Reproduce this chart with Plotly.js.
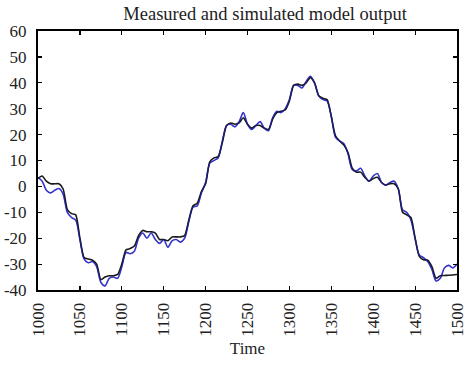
<!DOCTYPE html>
<html>
<head>
<meta charset="utf-8">
<script src="https://cdn.plot.ly/plotly-3.0.1.min.js"></script>
<style>html,body{margin:0;padding:0;background:#fff;}#chart{width:474px;height:367px;}</style>
</head>
<body>
<div id="chart"></div>
<script>
const time = [];
for (let t = 1000; t <= 1500; t += 5) time.push(t);

const measured = [
 3, 4, 2, 1, 1, 1, -1, -9, -10.5, -11,
 -20, -27.5, -28, -28.5, -30, -36, -35, -34.5, -34.5, -34,
 -30, -24.5, -24, -23, -19, -17, -17.5, -17.5, -18, -20.5,
 -20.5, -21, -19.5, -19.5, -19.5, -19, -13, -7.5, -6.5, -2,
 1, 9.5, 11, 11.5, 17, 23.5, 24.5, 24, 24.5, 26.5,
 24, 22.5, 23.5, 23.5, 22.5, 22, 26, 28.5, 29, 29.5,
 33, 39, 39.5, 39, 40, 42, 40, 35, 34, 33.5,
 27, 19.5, 17.5, 16, 13, 7, 5.5, 5.5, 3.5, 2,
 3, 3.5, 1.5, 0.5, 1, 1, -1, -10, -11, -12,
 -20, -27, -28.3, -28.5, -31, -35.5, -34.5, -34.4, -34.3, -34.2,
 -34
];

const simulated = [
 3.5, 2, -1.5, -2.5, -1.5, -0.8, -3, -10, -12, -13,
 -20.5, -28, -29.5, -29, -31, -37, -38.4, -35.5, -35, -35.5,
 -31, -25.5, -26, -25, -20, -18, -20, -18, -20.5, -22,
 -20.5, -23.5, -21, -20.5, -21.5, -20, -13.5, -8, -7.5, -2.5,
 1.5, 9, 10, 11, 17.5, 23.5, 24, 23, 25, 28.5,
 24, 22, 23.5, 25, 22.5, 21.5, 26.5, 29, 28.5, 30,
 33.5, 39, 39, 38, 40.5, 42.5, 40, 35, 33.5, 33,
 27, 19, 17.5, 16.5, 12.5, 6.5, 6, 7, 4, 2,
 4, 5, 1.5, 0.5, 1.5, 2, -1, -9, -10, -13,
 -20, -26.5, -27.5, -29, -32, -36.5, -35.5, -31.5, -30.5, -31.5,
 -30
];

const xTicks = [1000, 1050, 1100, 1150, 1200, 1250, 1300, 1350, 1400, 1450, 1500];
const yTicks = [-40, -30, -20, -10, 0, 10, 20, 30, 40, 50, 60];

const family = '"Liberation Serif", "Times New Roman", serif';
const tickFont = {family: family, size: 17, color: '#222'};

const traces = [
  {x: time, y: simulated, mode: 'lines', line: {color: '#5555dd', width: 1.6, shape: 'spline', smoothing: 0.8}, hoverinfo: 'skip'},
  {x: time, y: measured, mode: 'lines', line: {color: '#1a1a1a', width: 1.6, shape: 'spline', smoothing: 0.6}, hoverinfo: 'skip'},
  {x: time, y: simulated, mode: 'lines', line: {color: '#1f1fb8', width: 1.1, shape: 'spline', smoothing: 0.8}, opacity: 0.65, hoverinfo: 'skip'}
];

const layout = {
  width: 474, height: 367,
  margin: {l: 38, r: 17, t: 31, b: 77},
  paper_bgcolor: '#fff', plot_bgcolor: '#fff',
  showlegend: false,
  font: tickFont,
  title: {text: 'Measured and simulated model output', font: {family: family, size: 18.5, color: '#222'}, x: 0.542, xref: 'paper', xanchor: 'center', y: 0.962, yanchor: 'middle'},
  xaxis: {
    range: [1000, 1500], tickvals: xTicks, ticktext: xTicks.map(String), tickangle: -90,
    ticks: 'inside', ticklen: 4, tickwidth: 1.2, tickcolor: '#000', ticklabelstandoff: 4,
    showline: true, linecolor: '#000', linewidth: 2, mirror: 'ticks', showgrid: false, zeroline: false,
    tickfont: tickFont,
    title: {text: 'Time', font: {family: family, size: 17, color: '#222'}, standoff: 6}
  },
  yaxis: {
    range: [-40, 60], tickvals: yTicks, ticktext: yTicks.map(String),
    ticks: 'inside', ticklen: 4, tickwidth: 1.2, tickcolor: '#000', ticklabelstandoff: 6,
    showline: true, linecolor: '#000', linewidth: 2, mirror: 'ticks', showgrid: false, zeroline: false,
    tickfont: tickFont
  }
};

Plotly.newPlot('chart', traces, layout, {staticPlot: true, displayModeBar: false});
</script>
</body>
</html>
